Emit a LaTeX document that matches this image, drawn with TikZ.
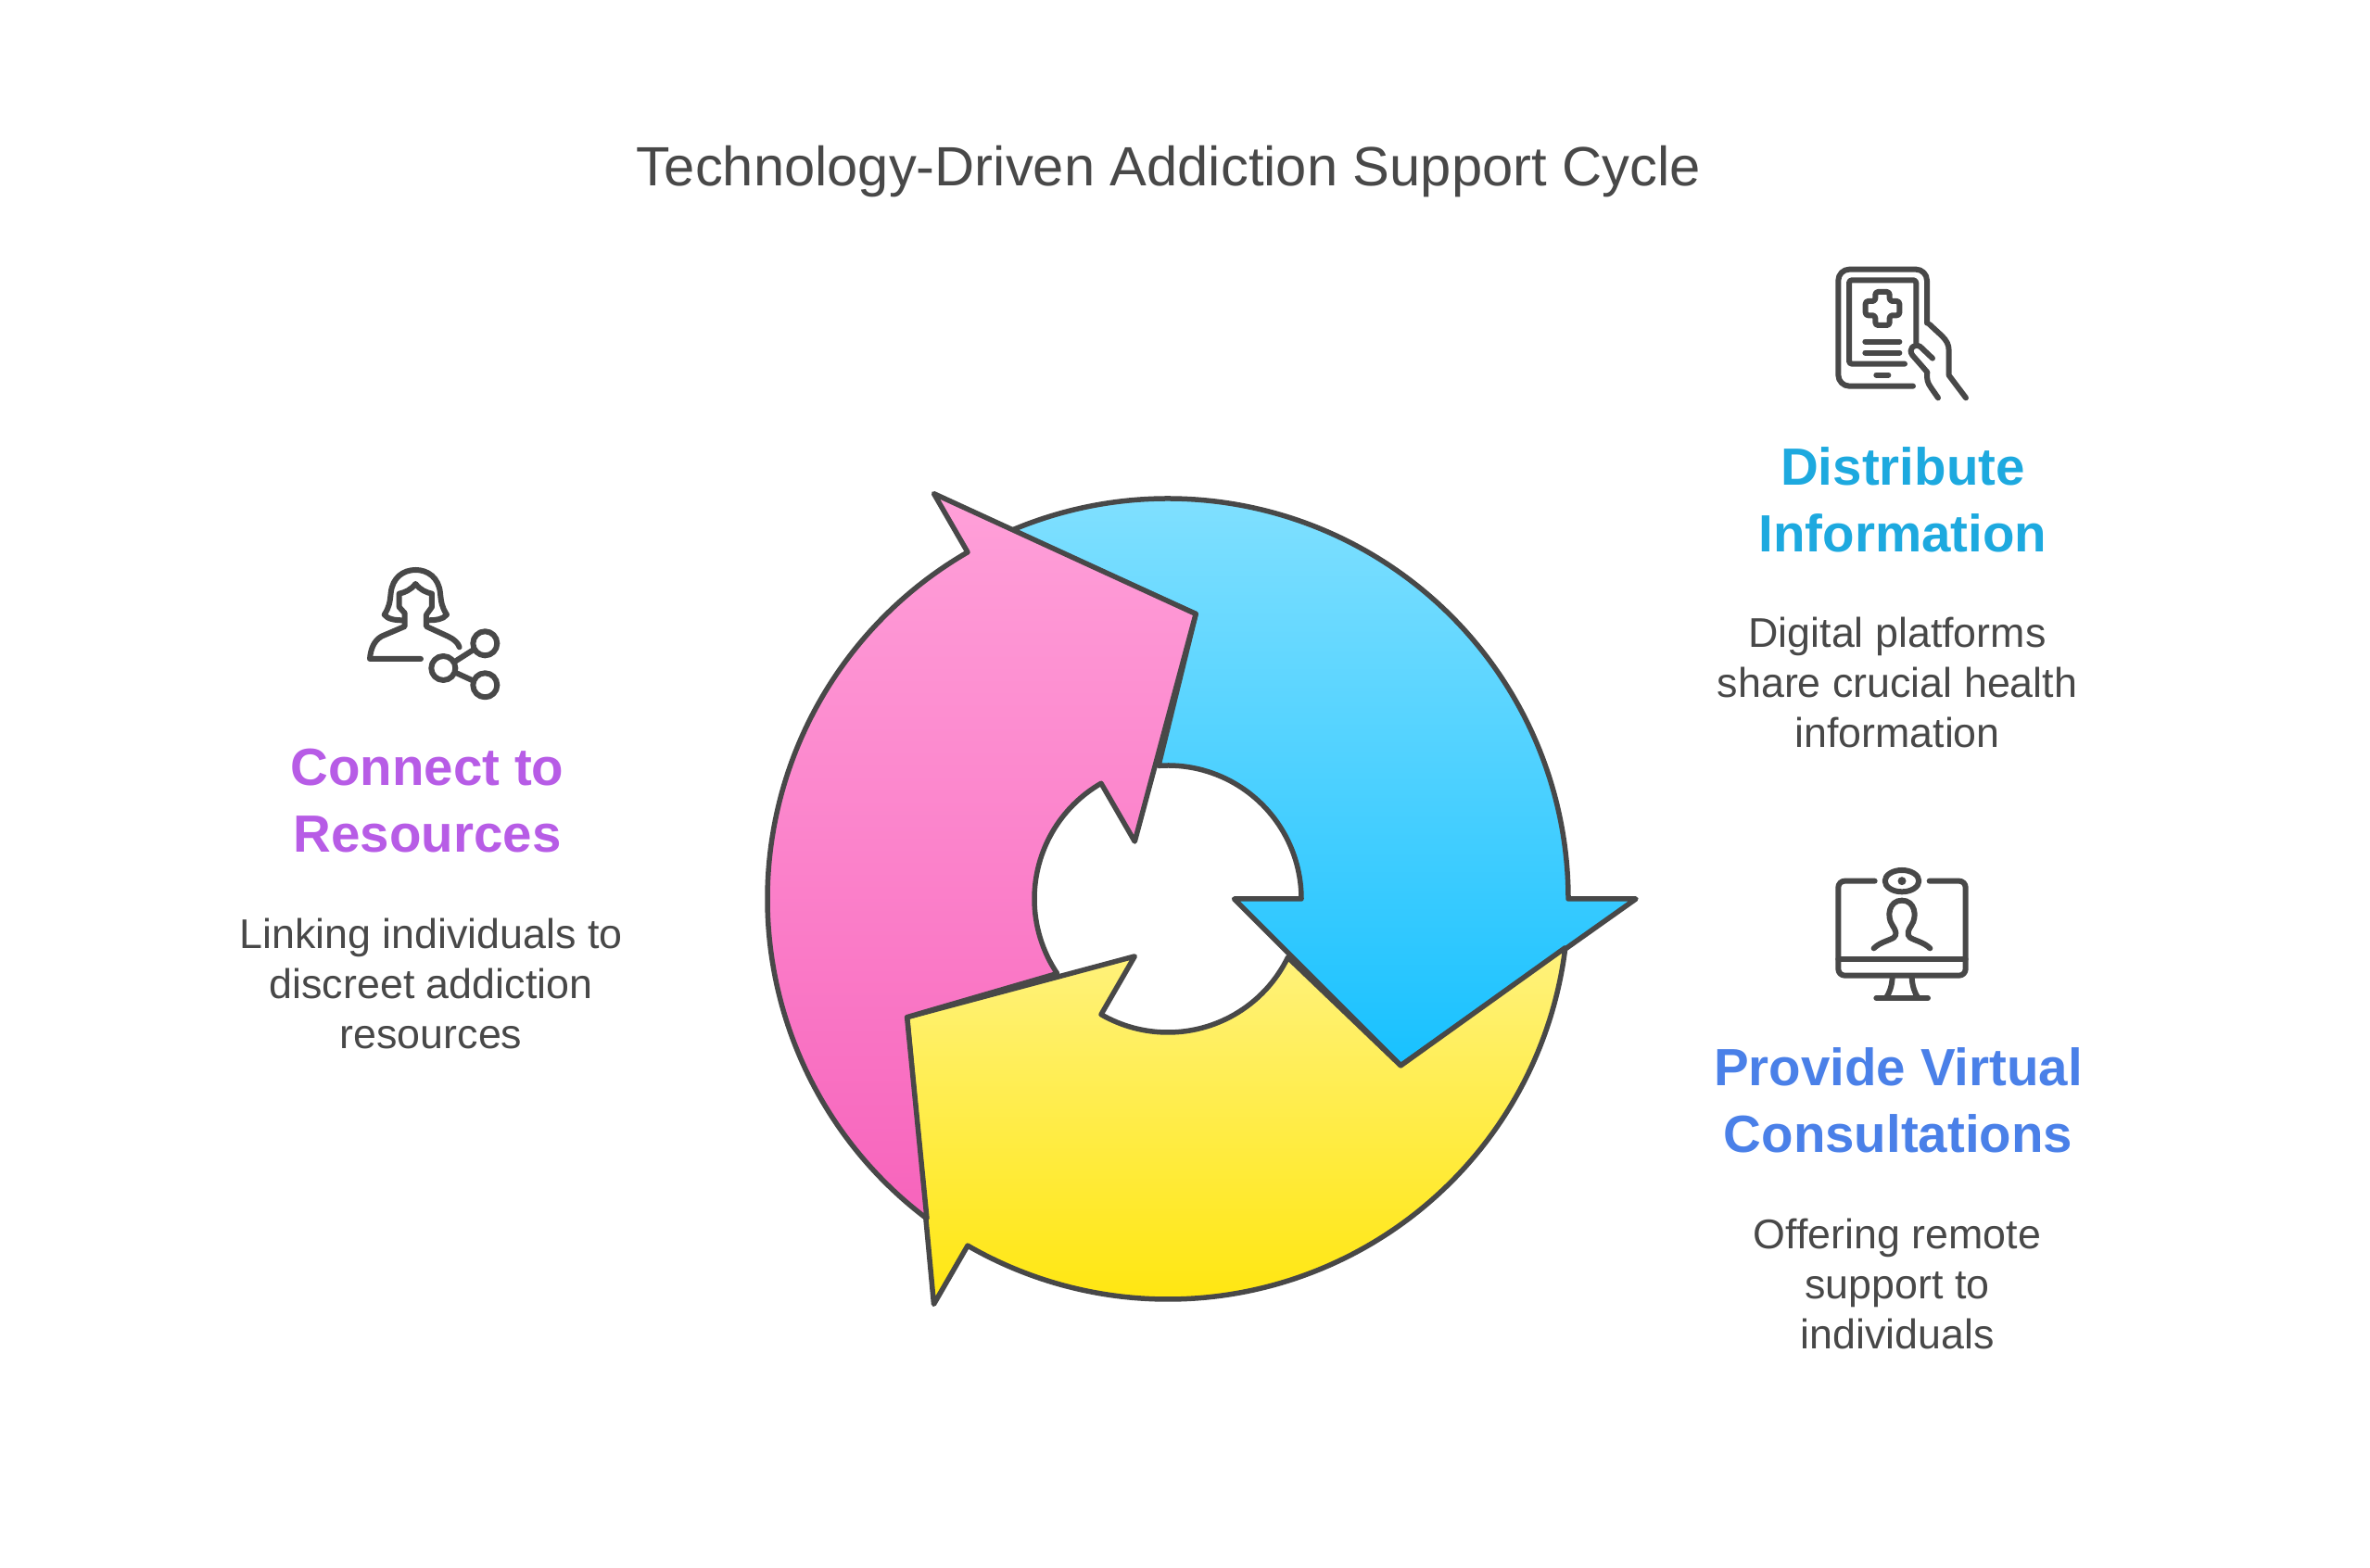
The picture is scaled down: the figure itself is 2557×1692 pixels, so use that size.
\documentclass[tikz,border=0pt]{standalone}
\usepackage{fontspec}
\setmainfont{Liberation Sans}
\definecolor{ink}{RGB}{72, 72, 72}
\definecolor{bluehead}{RGB}{29, 169, 223}
\definecolor{skyhead}{RGB}{74, 128, 232}
\definecolor{violethead}{RGB}{183, 92, 230}
\definecolor{bluetop}{RGB}{132, 225, 255}
\definecolor{bluebot}{RGB}{24, 193, 255}
\definecolor{pinktop}{RGB}{255, 160, 217}
\definecolor{pinkbot}{RGB}{247, 100, 188}
\definecolor{yellowtop}{RGB}{255, 242, 125}
\definecolor{yellowbot}{RGB}{255, 230, 12}
\def\outerrad{432pt}
\def\innerrad{144pt}
\tikzset{
	headtext/.style={align=center,inner sep=0pt,font=\fontsize{56.5}{72}\selectfont\bfseries},
	bodytext/.style={align=center,inner sep=0pt,text=ink,font=\fontsize{44.8}{54}\selectfont},
	iconline/.style={draw=ink,line width=6pt,line cap=round,line join=round}
}
\newcommand{\cyclearrow}[3]{\draw[draw=ink,line width=5.5pt,line join=round,top color=#2,bottom color=#3]
	({#1+113}:\outerrad) arc[start angle=#1+113,end angle=#1,radius=\outerrad]
	-- ({#1}:505pt) -- ({#1-35.6}:309pt) -- ({#1}:71.5pt) -- ({#1}:\innerrad)
	arc[start angle=#1,end angle=#1+94,radius=\innerrad] -- ({#1+84.4}:309pt) -- cycle;}
\begin{document}
\begin{tikzpicture}[x=1pt,y=1pt]
\useasboundingbox (0,0) rectangle (2557,1692);

\node[inner sep=0pt,text=ink,font=\fontsize{59.7}{70}\selectfont] (title) at (1261,1507) {Technology-Driven Addiction Support Cycle};

\begin{scope}[shift={(1260,722)}]
\cyclearrow{0}{bluetop}{bluebot}
\cyclearrow{-120}{yellowtop}{yellowbot}
\cyclearrow{-240}{pinktop}{pinkbot}
\end{scope}

\node[headtext,text=bluehead] (disthead) at (2053,1153) {Distribute\\Information};
\node[bodytext] (disttext) at (2047,956) {Digital platforms\\share crucial health\\information};
\node[headtext,text=skyhead] (provhead) at (2048,505) {Provide Virtual\\Consultations};
\node[bodytext] (provtext) at (2047,307) {Offering remote\\support to\\individuals};
\node[headtext,text=violethead] (connhead) at (461,828) {Connect to\\Resources};
\node[bodytext] (conntext) at (465,631) {Linking individuals to\\discreet addiction\\resources};

% tablet
\begin{scope}[shift={(1960,1422)},x=0.3333pt,y=-0.3333pt]
\draw[iconline,rounded corners=12pt] (312,440) -- (70,440) -- (70,62) -- (357,62) -- (357,236);
\draw[iconline,rounded corners=3pt] (285,368) -- (105,368) -- (105,97) -- (322,97) -- (322,300);
\draw[iconline,rounded corners=3pt] (190,135) -- (236,135) -- (236,165) -- (268,165) -- (268,211) -- (236,211) -- (236,243) -- (190,243) -- (190,211) -- (158,211) -- (158,165) -- (190,165) -- cycle;
\draw[iconline] (157,296) -- (268,296);
\draw[iconline] (157,332) -- (268,332);
\draw[iconline] (193,404) -- (232,404);
\draw[iconline] (365,240) -- (405,277) .. controls (420,292) and (428,305) .. (428,325) -- (428,405) -- (483,478);
\draw[iconline] (375,350) -- (335,312) .. controls (315,300) and (295,320) .. (310,340) -- (358,395) .. controls (355,420) and (360,430) .. (370,445) -- (393,478);
\end{scope}

% monitor
\begin{scope}[shift={(1960,767)},x=0.3333pt,y=-0.3333pt]
\draw[iconline,rounded corners=7pt] (188,77) -- (70,77) -- (70,383) -- (482,383) -- (482,77) -- (365,77);
\draw[iconline] (70,330) -- (482,330);
\draw[iconline] (276,77) ellipse[x radius=55,y radius=35];
\fill[ink] (276,77) circle[radius=4.5pt];
\draw[iconline] (185,295) .. controls (205,275) and (235,270) .. (250,260) .. controls (262,250) and (255,235) .. (245,220) .. controls (225,190) and (235,140) .. (276,140) .. controls (317,140) and (327,190) .. (307,220) .. controls (297,235) and (290,250) .. (302,260) .. controls (317,270) and (347,275) .. (367,295);
\draw[iconline] (245,390) .. controls (243,420) and (235,440) .. (225,455);
\draw[iconline] (308,390) .. controls (310,420) and (318,440) .. (328,455);
\draw[iconline] (193,456) -- (360,456);
\end{scope}

% person
\begin{scope}[shift={(380,1092)},x=0.3333pt,y=-0.3333pt]
\draw[iconline] (222,333) -- (57,333) .. controls (60,300) and (70,275) .. (95,260) -- (170,228) -- (170,185) -- (152,165) -- (152,122) .. controls (170,118) and (190,110) .. (205,90) .. controls (220,110) and (240,118) .. (258,122) -- (258,165) -- (240,190) -- (240,228) -- (310,260) .. controls (330,270) and (342,280) .. (347,295);
\draw[iconline] (165,208) .. controls (140,208) and (115,205) .. (104,190) .. controls (120,165) and (122,150) .. (125,120) .. controls (130,70) and (165,45) .. (205,45) .. controls (245,45) and (280,70) .. (285,120) .. controls (288,150) and (290,165) .. (306,190) .. controls (295,205) and (270,208) .. (248,208);
\draw[iconline] (295,363) circle[radius=13pt];
\draw[iconline] (430,283) circle[radius=13pt];
\draw[iconline] (430,418) circle[radius=13pt];
\draw[iconline] (335,340) -- (390,305);
\draw[iconline] (340,380) -- (390,403);
\end{scope}
\end{tikzpicture}
\end{document}
